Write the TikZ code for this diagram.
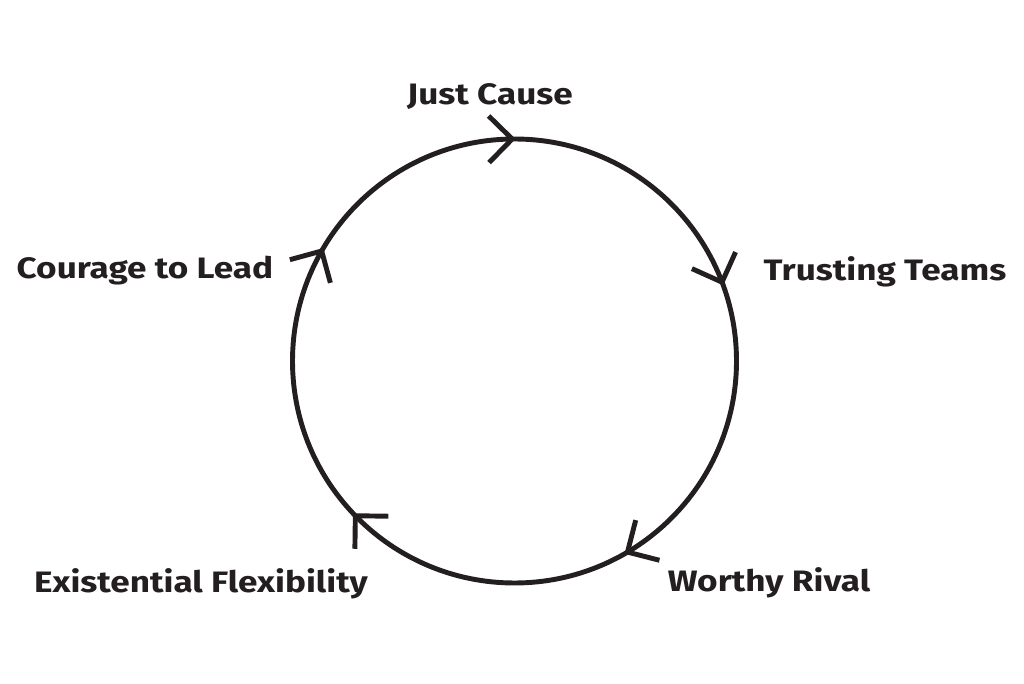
\documentclass[tikz,border=0pt]{standalone}
\usepackage{fontspec}
\setmainfont{Fira Sans}[FakeStretch=1.19]
\usetikzlibrary{calc}
\definecolor{ink}{HTML}{231F20}

\begin{document}
\begin{tikzpicture}[x=0.025cm,y=0.025cm,
    lbl/.style={font=\bfseries\fontsize{21}{25}\selectfont,text=ink,inner sep=0pt},
    chev/.style={draw=ink,line width=3.5pt}]
    \useasboundingbox (0,0) rectangle (1024,683);

    \coordinate (c) at (514.5,322);
    \draw[ink,line width=3.5pt] (c) circle (222);

    % open arrow heads, running clockwise
    \foreach \a in {90.6,20.8,-59.4,-135.8,150.3}{
        \path (c) ++(\a:222) coordinate (t);
        \draw[chev] (t) ++(\a+135:33) -- (t) -- ++(\a+45:33);
    }

    \node[lbl] (cause) at (490,586) {Just Cause};
    \node[lbl] (teams) at (885,411) {Trusting Teams};
    \node[lbl] (rival) at (769,100) {Worthy Rival};
    \node[lbl] (flex) at (201,99) {Existential Flexibility};
    \node[lbl] (lead) at (145,412) {Courage to Lead};
\end{tikzpicture}
\end{document}
